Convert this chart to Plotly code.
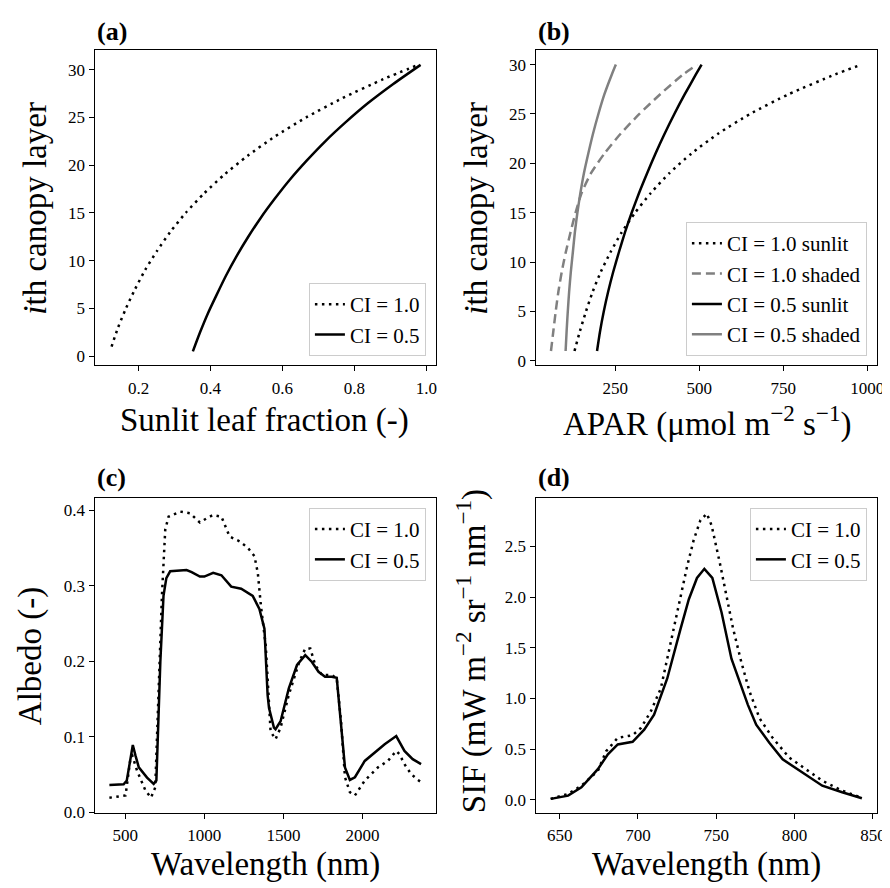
import plotly.graph_objects as go

# ---------------- data ----------------
# (a) sunlit leaf fraction vs canopy layer
a_ci10_y = [1, 3, 5, 7, 9, 11, 13, 15, 17, 19, 21, 23, 25, 27, 29, 30.55]
a_ci10_x = [0.125, 0.143, 0.165, 0.190, 0.218, 0.251, 0.288, 0.331, 0.381, 0.438,
            0.504, 0.579, 0.666, 0.766, 0.880, 0.981]
a_ci05_y = [0.5, 2.5, 4.5, 6.5, 8.5, 10.5, 12.5, 14.5, 16.5, 18.5, 20.5, 22.5, 24.5,
            26.5, 28.5, 30.5]
a_ci05_x = [0.351, 0.371, 0.393, 0.418, 0.444, 0.473, 0.505, 0.540, 0.579, 0.621,
            0.668, 0.719, 0.776, 0.838, 0.908, 0.984]

# (b) APAR vs canopy layer
b_layer = [1, 3, 5, 7, 9, 11, 13, 15, 17, 19, 21, 23, 25, 27, 29, 30]
b_ci10_sun = [129, 145, 163, 183, 207, 236, 269, 309, 356, 411, 477, 556, 651, 766, 904, 983]
b_ci10_sha = [59, 66, 73, 81, 91, 103, 117, 132, 150, 178, 218, 266, 322, 384, 452, 494]
b_ci05_sun = [196, 205, 216, 229, 244, 261, 279, 299, 321, 345, 370, 397, 426, 457, 490, 507]
b_ci05_sha = [102.5, 105.5, 109, 113, 118, 124, 130, 137.5, 146.5, 157, 170, 184, 200,
              218, 240, 252]

# (c) albedo spectra
c_ci10_wl = [400, 502, 534, 545, 575, 628, 663, 690, 732, 753, 774, 847, 910, 972, 1014,
             1056, 1108, 1160, 1223, 1275, 1317, 1338, 1358, 1373, 1388, 1419, 1450, 1482,
             1534, 1600, 1638, 1670, 1701, 1743, 1805, 1837, 1864, 1889, 1920, 1952, 2014,
             2098, 2160, 2213, 2233, 2265, 2307, 2349, 2370]
c_ci10_alb = [0.0193, 0.0223, 0.0726, 0.075, 0.055, 0.0288, 0.0193, 0.033, 0.2865, 0.374,
              0.3913, 0.398, 0.3957, 0.3835, 0.389, 0.3935, 0.3913, 0.365, 0.3586, 0.35,
              0.339, 0.317, 0.273, 0.243, 0.221, 0.107, 0.0966, 0.112, 0.1555, 0.199,
              0.2167, 0.2167, 0.195, 0.1817, 0.1817, 0.1774, 0.1205, 0.0464, 0.0267, 0.0223,
              0.042, 0.0595, 0.068, 0.0812, 0.077, 0.0638, 0.0507, 0.043, 0.040]
c_ci05_wl = [400, 490, 510, 530, 548, 565, 586, 638, 680, 697, 722, 742, 760, 784, 888, 920,
             972, 1000, 1056, 1108, 1170, 1233, 1306, 1348, 1380, 1400, 1409, 1440, 1450,
             1482, 1534, 1586, 1638, 1680, 1722, 1763, 1805, 1837, 1858, 1889, 1920, 1952,
             2014, 2098, 2140, 2213, 2265, 2317, 2370]
c_ci05_alb = [0.036, 0.037, 0.042, 0.068, 0.0891, 0.075, 0.0595, 0.046, 0.0376, 0.042, 0.199,
              0.2865, 0.31, 0.319, 0.3206, 0.318, 0.312, 0.312, 0.317, 0.3137, 0.2987, 0.296,
              0.2865, 0.269, 0.243, 0.1555, 0.138, 0.112, 0.11, 0.1205, 0.164, 0.195, 0.208,
              0.199, 0.186, 0.1795, 0.1795, 0.178, 0.1336, 0.0595, 0.0428, 0.0464, 0.068,
              0.0834, 0.09, 0.1009, 0.0812, 0.0703, 0.0638]

# (d) SIF spectra
d_ci10_wl = [644.3, 655.4, 663.9, 674.4, 679.7, 687.1, 696.6, 701.9, 708.2, 714.6, 718.7,
             725.1, 731.4, 735.6, 739.9, 744, 747, 752.3, 756.5, 760.8, 766, 771.3, 777.6,
             786, 796.6, 807.2, 817.7, 830.4, 842]
d_ci10_sif = [0.01, 0.059, 0.14, 0.286, 0.48, 0.612, 0.638, 0.71, 0.872, 1.10, 1.393, 1.849,
              2.305, 2.565, 2.76, 2.825, 2.71, 2.337, 2.01, 1.687, 1.36, 1.067, 0.807, 0.612,
              0.417, 0.303, 0.189, 0.091, 0.026]
d_ci05_wl = [644.3, 655.4, 663.9, 674.4, 680.8, 687.1, 696.6, 704, 710.3, 718.7, 727.2, 732.5,
             737.7, 742.4, 747.5, 753.4, 759.7, 765, 770.2, 775.5, 783.9, 792.4, 805, 817.7,
             830.4, 843]
d_ci05_sif = [0.01, 0.042, 0.124, 0.303, 0.449, 0.547, 0.573, 0.693, 0.84, 1.198, 1.687, 1.98,
              2.19, 2.28, 2.19, 1.849, 1.393, 1.165, 0.9375, 0.742, 0.563, 0.40, 0.27, 0.14,
              0.075, 0.016]

# ---------------- layout helpers ----------------
W, H = 890, 888
FONT = "Liberation Serif"
DOT = "2.5px,4.5px"
DASH = "9px,5px"
LW = 2.5


def px_x(p):
    return p / W


def px_y(p):
    return 1 - p / H


fig = go.Figure()


def add(x, y, name, xa, ya, leg, color="black", dash="solid", shape="spline"):
    fig.add_trace(go.Scatter(
        x=x, y=y, mode="lines", name=name, xaxis=xa, yaxis=ya, legend=leg,
        line=dict(color=color, width=LW, dash=dash, shape=shape, smoothing=0.6)))


add(a_ci10_x, a_ci10_y, "CI = 1.0", "x", "y", "legend", dash=DOT)
add(a_ci05_x, a_ci05_y, "CI = 0.5", "x", "y", "legend")

add(b_ci10_sun, b_layer, "CI = 1.0 sunlit", "x2", "y2", "legend2", dash=DOT)
add(b_ci10_sha, b_layer, "CI = 1.0 shaded", "x2", "y2", "legend2", color="gray", dash=DASH)
add(b_ci05_sun, b_layer, "CI = 0.5 sunlit", "x2", "y2", "legend2")
add(b_ci05_sha, b_layer, "CI = 0.5 shaded", "x2", "y2", "legend2", color="gray")

add(c_ci10_wl, c_ci10_alb, "CI = 1.0", "x3", "y3", "legend3", dash=DOT, shape="linear")
add(c_ci05_wl, c_ci05_alb, "CI = 0.5", "x3", "y3", "legend3", shape="linear")

add(d_ci10_wl, d_ci10_sif, "CI = 1.0", "x4", "y4", "legend4", dash=DOT, shape="linear")
add(d_ci05_wl, d_ci05_sif, "CI = 0.5", "x4", "y4", "legend4", shape="linear")

axis_style = dict(showline=True, linecolor="black", linewidth=1, mirror=True,
                  ticks="outside", ticklen=5, tickwidth=1, tickcolor="black",
                  showgrid=False, zeroline=False,
                  tickfont=dict(family=FONT, size=17, color="black"))
xstyle = dict(axis_style, ticklabelstandoff=2)

xl, xr = px_x(87.3), px_x(432.3)
xl2, xr2 = px_x(532.3), px_x(877.3)
ytop_b, ytop_t = px_y(361), px_y(42.7)
ybot_b, ybot_t = px_y(813.3), px_y(495)

leg_style = dict(font=dict(family=FONT, size=21, color="black"),
                 bgcolor="rgba(255,255,255,0.8)", bordercolor="#cccccc", borderwidth=1,
                 xanchor="right")

fig.update_layout(
    width=W, height=H,
    margin=dict(l=0, r=0, t=0, b=0),
    paper_bgcolor="white", plot_bgcolor="white",
    font=dict(family=FONT, color="black"),
    xaxis=dict(domain=[xl, xr], anchor="y", range=[0.0776, 1.028],
               tickvals=[0.2, 0.4, 0.6, 0.8, 1.0], tickformat=".1f", **xstyle),
    yaxis=dict(domain=[ytop_b, ytop_t], anchor="x", range=[-0.96, 32.03],
               tickvals=[0, 5, 10, 15, 20, 25, 30], **axis_style),
    xaxis2=dict(domain=[xl2, xr2], anchor="y2", range=[13, 1030],
                tickvals=[250, 500, 750, 1000], **xstyle),
    yaxis2=dict(domain=[ytop_b, ytop_t], anchor="x2", range=[-0.45, 31.45],
                tickvals=[0, 5, 10, 15, 20, 25, 30], **axis_style),
    xaxis3=dict(domain=[xl, xr], anchor="y3", range=[306, 2467],
                tickvals=[500, 1000, 1500, 2000], **xstyle),
    yaxis3=dict(domain=[ybot_b, ybot_t], anchor="x3", range=[-0.001, 0.416],
                tickvals=[0, 0.1, 0.2, 0.3, 0.4], tickformat=".1f", **axis_style),
    xaxis4=dict(domain=[xl2, xr2], anchor="y4", range=[634.6, 852.9],
                tickvals=[650, 700, 750, 800, 850], **xstyle),
    yaxis4=dict(domain=[ybot_b, ybot_t], anchor="x4", range=[-0.13, 2.979],
                tickvals=[0, 0.5, 1.0, 1.5, 2.0, 2.5], tickformat=".1f", **axis_style),
    legend=dict(x=px_x(421.7), y=px_y(351.7), yanchor="bottom", **leg_style),
    legend2=dict(x=px_x(866.7), y=px_y(351.7), yanchor="bottom", **leg_style),
    legend3=dict(x=px_x(421.7), y=px_y(505), yanchor="top", **leg_style),
    legend4=dict(x=px_x(866.7), y=px_y(505), yanchor="top", **leg_style),
)

annots = []


def label(text, x, y, size=33, angle=0, bold=False, xanchor="center"):
    annots.append(dict(text=f"<b>{text}</b>" if bold else text, x=px_x(x), y=px_y(y),
                       xref="paper", yref="paper", showarrow=False, textangle=angle,
                       xanchor=xanchor, yanchor="middle",
                       font=dict(family=FONT, size=size, color="black")))


# panel letters
label("(a)", 88, 24, size=26, bold=True, xanchor="left")
label("(b)", 533, 24, size=26, bold=True, xanchor="left")
label("(c)", 88, 474, size=26, bold=True, xanchor="left")
label("(d)", 533, 474, size=26, bold=True, xanchor="left")

# axis titles
label("Sunlit leaf fraction (-)", 259, 417)
label("<i>i</i>th canopy layer", 27, 202, angle=-90)
label("APAR (μmol m<sup>−2</sup> s<sup>−1</sup>)", 705, 418)
label("<i>i</i>th canopy layer", 472, 202, angle=-90)
label("Wavelength (nm)", 260, 865)
label("Albedo (-)", 23, 655, angle=-90)
label("Wavelength (nm)", 705, 865)
label("SIF (mW m<sup>−2</sup> sr<sup>−1</sup> nm<sup>−1</sup>)", 468, 650, angle=-90)

fig.update_layout(annotations=annots)

fig.write_html("out.html")
